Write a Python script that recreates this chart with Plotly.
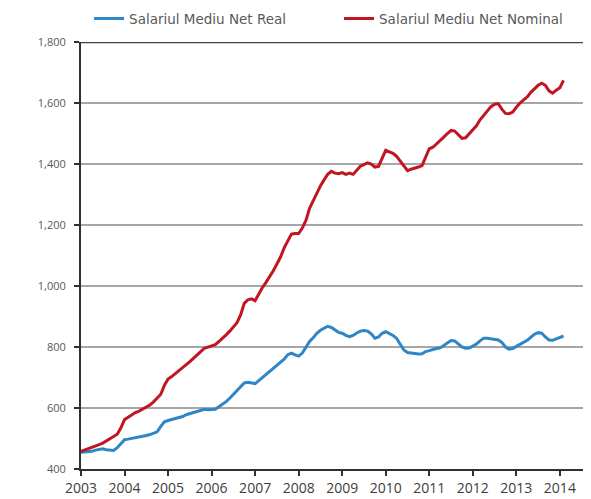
import plotly.graph_objects as go

start_year = 2003
real = [
    455, 456, 457, 458, 462, 465, 466, 463, 462, 461, 470, 485,
    496, 498, 500, 503, 506, 507, 510, 513, 518, 522, 540, 555,
    559, 562, 565, 568, 572, 578, 582, 586, 590, 594, 596, 594,
    594, 596, 604, 612, 621, 632, 645, 655, 670, 682, 684, 681,
    680, 690, 700, 710, 720, 730, 738, 748, 760, 775, 780, 774,
    770, 780, 800, 818, 830, 845, 855, 862, 868, 864, 855, 848,
    845, 838, 834, 838, 846, 852, 854, 852, 843, 829, 833, 845,
    850, 845, 838, 828, 810, 790, 782, 780, 778, 777, 778, 785,
    788, 792, 795, 797, 805, 815, 821, 820, 810, 800, 796, 797,
    803, 810, 820, 829, 829, 827, 826, 823, 815, 800, 793, 795,
    802, 808, 814, 822, 832, 842, 847, 845, 833, 823, 822, 826,
    832, 836,
]
nominal = [
    458, 462, 466, 470, 475, 480, 485, 492, 500, 508, 514, 535,
    562, 570, 578, 585, 590, 596, 603, 610, 620, 633, 645, 675,
    695, 703, 712, 722, 732, 742, 752, 762, 772, 785, 796, 800,
    803, 808, 818, 828, 840, 852, 865, 880, 905, 943, 955, 958,
    952, 975, 995, 1012, 1030, 1050, 1072, 1095, 1125, 1150, 1170, 1172,
    1172, 1190, 1215, 1255, 1280, 1305, 1328, 1348, 1366, 1376, 1370, 1368,
    1372, 1366, 1370, 1366, 1380, 1393, 1398, 1404, 1400, 1390, 1392, 1418,
    1445, 1440, 1435, 1425, 1408, 1392, 1378, 1383, 1386, 1390, 1395, 1425,
    1450, 1455, 1465, 1475, 1488, 1500, 1510, 1508, 1495, 1484, 1486, 1500,
    1512, 1525, 1545, 1560, 1576, 1588, 1596, 1598, 1580, 1566, 1565, 1570,
    1586, 1600, 1610, 1620, 1635, 1648, 1658, 1665, 1658, 1640, 1632, 1642,
    1650, 1674,
]
year_ticks = list(range(2003, 2015))
y_ticks = [400, 600, 800, 1000, 1200, 1400, 1600, 1800]

x_real = [start_year + i / 12 for i in range(len(real))]
x_nom = [start_year + i / 12 for i in range(len(nominal))]

BLUE = "#2E86C6"
RED = "#C1161F"
TXT = "#595959"
FONT = "DejaVu Sans"

fig = go.Figure()
fig.add_trace(go.Scatter(x=x_real, y=real, mode="lines", name="Salariul Mediu Net Real",
                         line=dict(color=BLUE, width=3), legend="legend"))
fig.add_trace(go.Scatter(x=x_nom, y=nominal, mode="lines", name="Salariul Mediu Net Nominal",
                         line=dict(color=RED, width=3), legend="legend2"))

fig.add_shape(type="line", xref="paper", x0=0, x1=1, yref="y", y0=1800, y1=1800,
              line=dict(color="#404040", width=2.5))

leg_common = dict(orientation="h", xanchor="left", yref="container", y=0.978,
                  yanchor="middle",
                  font=dict(size=13.5, color=TXT, family=FONT), itemwidth=30,
                  bgcolor="rgba(0,0,0,0)")

fig.update_layout(
    width=583, height=491,
    margin=dict(l=73, r=5, t=34, b=30, autoexpand=False),
    plot_bgcolor="white", paper_bgcolor="white",
    font=dict(family=FONT, color=TXT, size=11),
    showlegend=True,
    legend=dict(x=0.016, **leg_common),
    legend2=dict(x=0.511, **leg_common),
    xaxis=dict(range=[2003, 2014.6], tickmode="array", tickvals=year_ticks,
               ticktext=[str(y) for y in year_ticks], showgrid=False, zeroline=False,
               showline=True, linecolor="#303030", linewidth=2,
               ticks="outside", ticklen=5, tickcolor="#303030", tickwidth=2,
               tickfont=dict(size=14, color="#404040", family="Open Sans")),
    yaxis=dict(range=[400, 1800], tickmode="array", tickvals=y_ticks,
               tickformat=",d", showgrid=True, gridcolor="#A6A6A6", gridwidth=1.5,
               zeroline=False, showline=True, linecolor="#303030", linewidth=2,
               ticks="outside", ticklen=5, tickcolor="#303030", tickwidth=2,
               ticklabelstandoff=6,
               tickfont=dict(size=11, color=TXT, family="Open Sans")),
)

fig.write_html("out.html")
